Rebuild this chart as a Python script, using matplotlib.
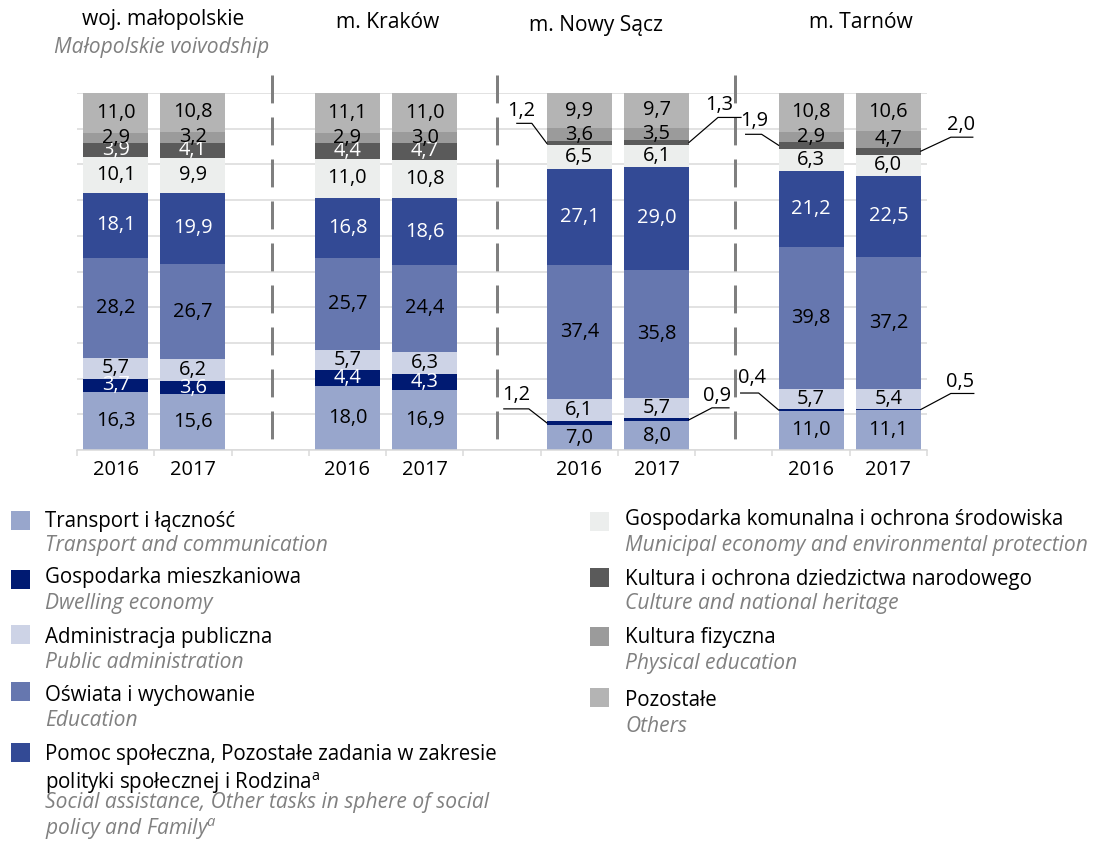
import matplotlib
matplotlib.use("Agg")
import matplotlib.pyplot as plt
from matplotlib.patches import Rectangle
from matplotlib.lines import Line2D
import numpy as np

plt.rcParams['font.family'] = ['Open Sans', 'DejaVu Sans']
plt.rcParams['mathtext.fontset'] = 'custom'
plt.rcParams['mathtext.rm'] = 'Open Sans'
plt.rcParams['mathtext.it'] = 'Open Sans:italic'

# Dane: struktura wydatków (%) - kolejność od dołu słupka
years = ['2016', '2017', '2016', '2017', '2016', '2017', '2016', '2017']
groups = ['woj. małopolskie', 'm. Kraków', 'm. Nowy Sącz', 'm. Tarnów']
group_en = 'Małopolskie voivodship'

transport = [16.3, 15.6, 18.0, 16.9, 7.0, 8.0, 11.0, 11.1]
mieszkaniowa = [3.7, 3.6, 4.4, 4.3, 1.2, 0.9, 0.4, 0.5]
administracja = [5.7, 6.2, 5.7, 6.3, 6.1, 5.7, 5.7, 5.4]
oswiata = [28.2, 26.7, 25.7, 24.4, 37.4, 35.8, 39.8, 37.2]
pomoc = [18.1, 19.9, 16.8, 18.6, 27.1, 29.0, 21.2, 22.5]
komunalna = [10.1, 9.9, 11.0, 10.8, 6.5, 6.1, 6.3, 6.0]
kultura = [3.9, 4.1, 4.4, 4.7, 1.2, 1.3, 1.9, 2.0]
kultura_fiz = [2.9, 3.2, 2.9, 3.0, 3.6, 3.5, 2.9, 4.7]
pozostale = [11.0, 10.8, 11.1, 11.0, 9.9, 9.7, 10.8, 10.6]

series = [transport, mieszkaniowa, administracja, oswiata, pomoc,
          komunalna, kultura, kultura_fiz, pozostale]
names_pl = ['Transport i łączność', 'Gospodarka mieszkaniowa', 'Administracja publiczna',
            'Oświata i wychowanie',
            'Pomoc społeczna, Pozostałe zadania w zakresie\npolityki społecznej i Rodzina$^{\\mathrm{a}}$',
            'Gospodarka komunalna i ochrona środowiska',
            'Kultura i ochrona dziedzictwa narodowego', 'Kultura fizyczna', 'Pozostałe']
names_en = ['Transport and communication', 'Dwelling economy', 'Public administration',
            'Education', 'Social assistance, Other tasks in sphere of social\npolicy and Family$^{a}$',
            'Municipal economy and environmental protection',
            'Culture and national heritage', 'Physical education', 'Others']

colors = ['#98A6CC', '#001A72', '#CDD3E6', '#6677AF', '#334A95',
          '#ECEEED', '#5A5A5A', '#9B9B9B', '#B4B4B4']
text_colors = ['black', 'white', 'black', 'black', 'white',
               'black', 'white', 'black', 'black']

W, H = 1104, 843
fig = plt.figure(figsize=(W / 72, H / 72), dpi=72)
ax = fig.add_axes([77 / W, 393 / H, 850 / W, 357 / H])

x = np.array([0, 1, 3, 4, 6, 7, 9, 10])
width = 0.84
fs = 20        # etykiety wartości i lat
fs_txt = 20.5  # legenda
fs_it = 21     # opisy angielskie (kursywa)
fs_head = 21

ax.set_xlim(-0.5, 10.5)
ax.set_ylim(0, 100)
ax.set_yticks(np.arange(0, 101, 10))
ax.yaxis.grid(True, color='#D9D9D9', lw=1.5)
ax.set_axisbelow(True)
ax.tick_params(axis='y', left=False, labelleft=False)
for s in ['top', 'right', 'left']:
    ax.spines[s].set_visible(False)
ax.spines['bottom'].set_color('#D9D9D9')
ax.spines['bottom'].set_linewidth(1.5)

ax.set_xticks(x)
ax.set_xticklabels(years, fontsize=fs)
ax.set_xticks(np.arange(-0.5, 11, 1), minor=True)
ax.tick_params(axis='x', which='major', length=0, pad=10)
ax.tick_params(axis='x', which='minor', length=6, width=1.5, color='#D9D9D9')

bottom = np.zeros(len(x))
mids = []
for vals, col, tcol in zip(series, colors, text_colors):
    vals = np.array(vals)
    ax.bar(x, vals, width, bottom=bottom, color=col, linewidth=0)
    mid = bottom + vals / 2
    mids.append(mid)
    for xi, v, m in zip(x, vals, mid):
        if v >= 2.5:
            ax.text(xi, m, f'{v:.1f}'.replace('.', ','), ha='center', va='center',
                    fontsize=fs, color=tcol)
    bottom = bottom + vals

# odnośniki dla małych wartości: (słupek, kategoria, strona, łokieć, koniec, tekst) w px
callouts = [
    (4, 1, -1, (18, 14), 43, (31, 28)),
    (4, 6, -1, (15, 20), 30, (26, 32)),
    (5, 6, 1, (29, 25), 52, (30, 37)),
    (5, 1, 1, (23, 12), 40, (28, 24)),
    (6, 6, -1, (17, 11), 33, (24, 24)),
    (7, 6, 1, (30, 14), 52, (40, 26)),
    (6, 1, -1, (20, 17), 38, (27, 32)),
    (7, 1, 1, (30, 16), 53, (39, 27)),
]
for b, c, side, (ex, ey), endx, (tx, ty) in callouts:
    edge = x[b] + side * width / 2
    px, py = ax.transData.transform((edge, mids[c][b]))
    xs = [px, px + side * ex, px + side * endx]
    ys = [py, py + ey, py + ey]
    fig.add_artist(Line2D(np.array(xs) / W, np.array(ys) / H, transform=fig.transFigure,
                          color='black', lw=1.2))
    fig.text((px + side * tx) / W, (py + ty) / H, f'{series[c][b]:.1f}'.replace('.', ','),
             ha='center', va='center', fontsize=fs)

# przerywane separatory grup
for sx in [2.02, 4.93, 8.01]:
    ax.plot([sx, sx], [105, 0], color='#7F7F7F', lw=3, ls=(0, (9.3, 4.7)),
            clip_on=False, dash_capstyle='butt')

# nagłówki grup
header_pos = [(163, 20), (388, 22), (596, 25), (861, 22)]
for name, (hx, hy) in zip(groups, header_pos):
    fig.text(hx / W, 1 - hy / H, name, ha='center', va='center', fontsize=fs_head)
fig.text(162 / W, 1 - 47 / H, group_en, ha='center', va='center', fontsize=fs_it,
         style='italic', color='#808080')

# legenda
grey = '#808080'
left_rows = [(511, 521, 546), (570, 578, 604), (625, 637, 662), (682, 696, 721), (743, 770, 817)]
right_rows = [(512, 520, 546), (568, 579, 604), (627, 638, 663), (688, 700, 726)]
sq = 19
entries = [(11, 45, r) for r in left_rows] + [(590, 625, r) for r in right_rows]
for i, (sqx, txx, (sqy, ty, ity)) in enumerate(entries):
    fig.add_artist(Rectangle((sqx / W, 1 - (sqy + sq) / H), sq / W, sq / H,
                             transform=fig.transFigure, color=colors[i], lw=0))
    fig.text(txx / W, 1 - ty / H, names_pl[i], ha='left', va='center', fontsize=fs_txt,
             linespacing=1.25)
    fig.text(txx / W, 1 - ity / H, names_en[i], ha='left', va='center', fontsize=fs_it,
             style='italic', color=grey, linespacing=1.15)

fig.savefig('out.png', dpi=72)
